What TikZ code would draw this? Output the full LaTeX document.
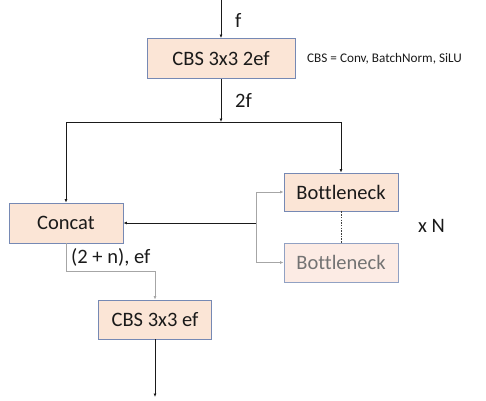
\documentclass[tikz,border=0pt]{standalone}
\usepackage{fontspec}
\setmainfont{Carlito}[Ligatures=NoCommon]
\usetikzlibrary{arrows.meta}
\definecolor{boxfill}{HTML}{FBE5D6}
\definecolor{boxfillfaint}{HTML}{FCEBE4}
\definecolor{boxline}{HTML}{7689B4}
\definecolor{wire}{HTML}{A6A6A6}
\definecolor{ink}{HTML}{1A1A1A}
\begin{document}
\begin{tikzpicture}[x=1pt,y=-1pt,
  block/.style={draw=boxline,fill=boxfill,line width=0.9pt,minimum height=39pt,
    inner sep=0pt,font=\fontsize{20.5}{24}\selectfont,text=ink},
  faintblock/.style={block,draw=boxline!80,fill=boxfillfaint,text=black!55},
  lbl/.style={font=\fontsize{20.5}{24}\selectfont,text=ink,inner sep=0pt},
  note/.style={font=\fontsize{13.2}{15}\selectfont,text=ink,inner sep=0pt},
  tip/.style={-{Latex[length=3.5pt,width=3pt]}},
  mainwire/.style={draw=ink,line width=0.8pt},
  sidewire/.style={draw=wire,line width=0.8pt}]
  \useasboundingbox (0,0) rectangle (486,400);

  % blocks
  \node[block,minimum width=148pt,minimum height=40pt] (cbsin) at (221,58.5) {CBS 3x3 2ef};
  \node[block,minimum width=114pt,minimum height=40pt] (concat) at (66,223) {Concat};
  \node[block,minimum width=114pt,minimum height=38pt] (bn1) at (341,192) {Bottleneck};
  \node[faintblock,minimum width=114pt,minimum height=39pt] (bn2) at (341,262.5) {Bottleneck};
  \node[block,minimum width=113pt,minimum height=39pt] (cbsout) at (155,319.5) {CBS 3x3 ef};

  % wiring points
  \coordinate (in) at (221,0);
  \coordinate (split) at (221,122);
  \coordinate (splitL) at (66,122);
  \coordinate (splitR) at (341,122);
  \coordinate (fork) at (256,223);
  \coordinate (bend) at (66,271.5);
  \coordinate (out) at (155,397);

  % main path
  \draw[mainwire,tip] (in) -- (cbsin.north);
  \draw[mainwire,tip] (cbsin.south) -- (split);
  \draw[mainwire] (splitL) -- (splitR);
  \draw[mainwire,tip] (splitL) -- (concat.north);
  \draw[mainwire,tip] (splitR) -- (bn1.north);
  \draw[mainwire,tip] (fork) -- (concat.east);

  % bottleneck taps
  \draw[sidewire,tip] (fork) |- (bn1.west);
  \draw[sidewire,tip] (fork) |- (bn2.west);
  \draw[black!75,dash pattern=on 1.5pt off 1.2pt,line width=0.6pt] (bn1.south) -- (bn2.north);

  % concat to output block
  \draw[sidewire,tip] (concat.south) -- (bend) -| (cbsout.north);
  \draw[mainwire,tip] (cbsout.south) -- (out);

  % labels
  \node[lbl,anchor=west] (lf) at (235,20) {f};
  \node[lbl,anchor=west] (l2f) at (235,100) {2f};
  \node[lbl,anchor=west] (lcat) at (71,257.5) {(2 + n), ef};
  \node[lbl,anchor=west] (lxn) at (418,226) {x N};
  \node[note,anchor=west] (legend) at (307,58.5) {CBS = Conv, BatchNorm, SiLU};
\end{tikzpicture}
\end{document}
